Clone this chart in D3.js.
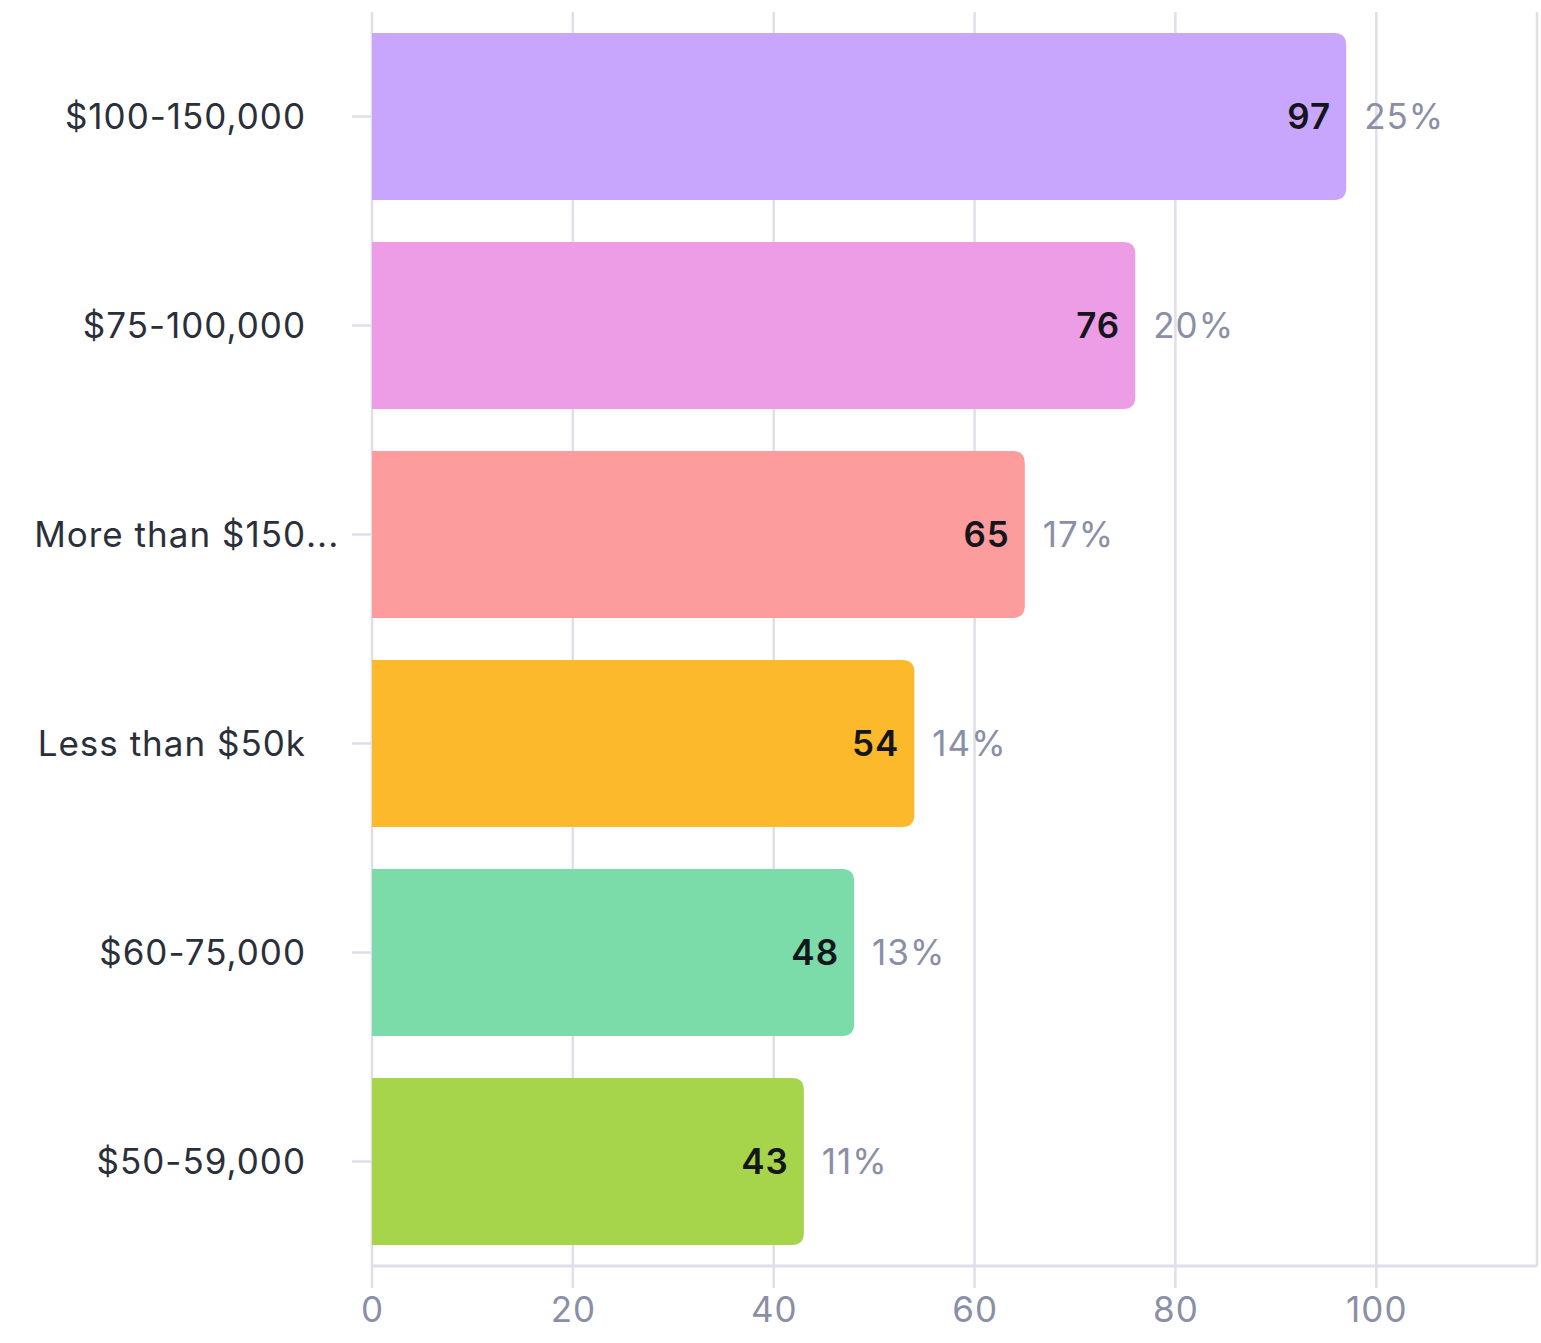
<!DOCTYPE html>
<html>
<head>
<meta charset="utf-8">
<script src="https://cdn.jsdelivr.net/npm/d3@7"></script>
<style>
  html, body { margin: 0; padding: 0; background: #fff; }
  svg { display: block; }
  text { font-family: Inter, "Open Sans", sans-serif; letter-spacing: 1px; }
</style>
</head>
<body>
<svg id="chart" width="1541" height="1343"></svg>
<script>
// Household income brackets, sorted by respondent count
const categories = ["$100-150,000", "$75-100,000", "More than $150...", "Less than $50k", "$60-75,000", "$50-59,000"];
const counts = [97, 76, 65, 54, 48, 43];
const barColors = ["#c9a6fd", "#ed9de6", "#fd9c9c", "#fcb92c", "#7bdba9", "#a6d44b"];
const xTicks = [0, 20, 40, 60, 80, 100];
const xMax = 116;

const svg = d3.select("#chart");
const plot = { left: 372, right: 1537, top: 12, bottom: 1266 };

const x = d3.scaleLinear().domain([0, xMax]).range([plot.left, plot.right]);
const y = d3.scaleBand().domain(categories).range([plot.top, plot.bottom]).paddingInner(0.2).paddingOuter(0.1);

const total = d3.sum(counts);
const pct = v => Math.round(v / total * 100) + "%";
const rows = categories.map((c, i) => ({ cat: c, value: counts[i], color: barColors[i] }));

const gridColor = "#dfdfe8";
const labelSize = "35px";

// vertical gridlines (extend below the baseline as tick marks)
svg.append("g")
  .selectAll("line")
  .data(xTicks)
  .join("line")
  .attr("x1", d => x(d)).attr("x2", d => x(d))
  .attr("y1", plot.top).attr("y2", plot.bottom + 22)
  .attr("stroke", gridColor).attr("stroke-width", 2.5);

// right border of the plot area
svg.append("line")
  .attr("x1", plot.right).attr("x2", plot.right)
  .attr("y1", plot.top).attr("y2", plot.bottom)
  .attr("stroke", gridColor).attr("stroke-width", 2.5);

// baseline
svg.append("line")
  .attr("x1", plot.left).attr("x2", plot.right)
  .attr("y1", plot.bottom).attr("y2", plot.bottom)
  .attr("stroke", gridColor).attr("stroke-width", 3);

// x axis labels
const xAxis = d3.axisBottom(x).tickValues(xTicks).tickSize(0).tickPadding(0);
const gx = svg.append("g").attr("transform", `translate(0,${plot.bottom})`).call(xAxis);
gx.select(".domain").remove();
gx.selectAll("text")
  .attr("y", 56).attr("dy", null)
  .attr("fill", "#8a8fa5")
  .style("font-size", "35px");

// y axis: short tick marks + category labels
const yAxis = d3.axisLeft(y).tickSize(20).tickPadding(0).tickFormat("");
const gy = svg.append("g").attr("transform", `translate(${plot.left},0)`).call(yAxis);
gy.select(".domain").remove();
gy.selectAll("line").attr("stroke", gridColor).attr("stroke-width", 2.5);

const labelG = svg.append("g");
rows.forEach(r => {
  const cy = y(r.cat) + y.bandwidth() / 2;
  const truncated = r.cat.endsWith("...");
  const base = truncated ? r.cat.slice(0, -3) : r.cat;
  labelG.append("text")
    .attr("x", 306).attr("y", cy).attr("dy", "0.36em")
    .attr("text-anchor", "end")
    .attr("fill", "#2b2f3a")
    .style("font-size", labelSize)
    .text(base);
  if (truncated) {
    labelG.append("text")
      .attr("x", 306).attr("y", cy).attr("dy", "0.36em")
      .attr("fill", "#2b2f3a")
      .style("font-size", labelSize)
      .text("...");
  }
});

// bars with rounded right corners
const r = 12;
function barPath(d) {
  const x0 = x(0), x1 = x(d.value), y0 = y(d.cat), h = y.bandwidth();
  return `M${x0},${y0}H${x1 - r}Q${x1},${y0} ${x1},${y0 + r}V${y0 + h - r}Q${x1},${y0 + h} ${x1 - r},${y0 + h}H${x0}Z`;
}
svg.append("g")
  .selectAll("path")
  .data(rows)
  .join("path")
  .attr("d", barPath)
  .attr("fill", d => d.color);

// value labels inside bar ends
svg.append("g")
  .selectAll("text")
  .data(rows)
  .join("text")
  .attr("x", d => x(d.value) - 15)
  .attr("y", d => y(d.cat) + y.bandwidth() / 2)
  .attr("dy", "0.36em")
  .attr("text-anchor", "end")
  .attr("fill", "#15151c")
  .style("font-size", labelSize)
  .style("font-weight", "600")
  .text(d => d.value);

// share labels after bar ends
svg.append("g")
  .selectAll("text")
  .data(rows)
  .join("text")
  .attr("x", d => x(d.value) + 18)
  .attr("y", d => y(d.cat) + y.bandwidth() / 2)
  .attr("dy", "0.36em")
  .attr("fill", "#8a8fa5")
  .style("font-size", labelSize)
  .text(d => pct(d.value));
</script>
</body>
</html>
